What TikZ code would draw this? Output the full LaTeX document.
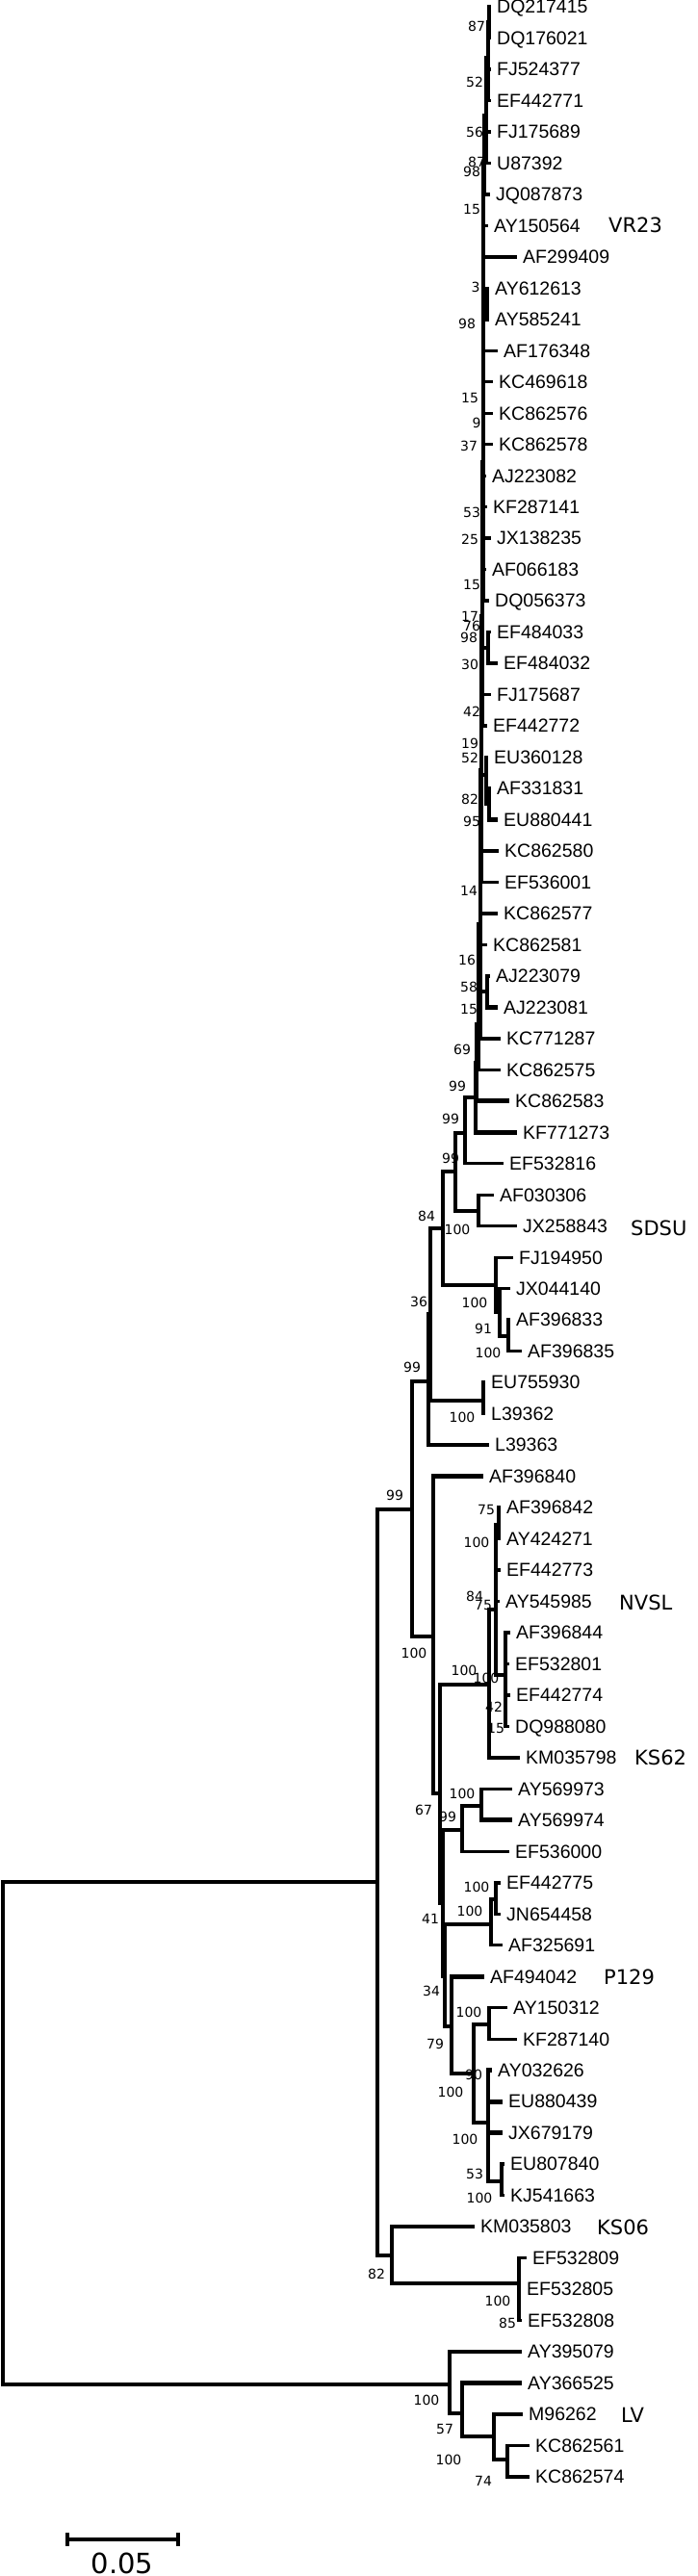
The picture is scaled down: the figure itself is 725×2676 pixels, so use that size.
\documentclass[tikz,border=0pt]{standalone}
\usepackage{fontspec}
\setmainfont{Liberation Sans}
\newfontfamily\dejavu{DejaVu Sans}
\usetikzlibrary{positioning}

\begin{document}
\begin{tikzpicture}[
			x=1pt, y=-1pt,
			branch/.style={line width=3.4pt},
			thk/.style={line width=4.8pt},
			leaf/.style={inner sep=0pt, text depth=0pt, font=\fontsize{19.5}{20}\selectfont},
			boot/.style={inner sep=0pt, font=\dejavu\fontsize{14}{14}\selectfont},
			clade/.style={anchor=west, inner sep=0pt, text depth=0pt, font=\dejavu\fontsize{21}{21}\selectfont}
			]
			\useasboundingbox (0,0) rectangle (725,2676);
			
			% Leaves (tip of branch, then label)
			\foreach [count=\i] \lab/\tx in {DQ217415/510, DQ176021/510, FJ524377/510, EF442771/510,
				FJ175689/510, U87392/510, JQ087873/509, AY150564/507, AF299409/537, AY612613/508,
				AY585241/508, AF176348/517, KC469618/512, KC862576/512, KC862578/512, AJ223082/505,
				KF287141/506, JX138235/510, AF066183/505, DQ056373/508, EF484033/510, EF484032/517,
				FJ175687/510, EF442772/506, EU360128/507, AF331831/510, EU880441/517, KC862580/518,
				EF536001/518, KC862577/517, KC862581/506, AJ223079/509, AJ223081/517, KC771287/520,
				KC862575/520, KC862583/529, KF771273/537, EF532816/523, AF030306/513, JX258843/537,
				FJ194950/533, JX044140/530, AF396833/530, AF396835/542, EU755930/504, L39362/504,
				L39363/508, AF396840/502, AF396842/520, AY424271/520, EF442773/520, AY545985/519,
				AF396844/530, EF532801/529, EF442774/530, DQ988080/529, KM035798/540, AY569973/532,
				AY569974/532, EF536000/529, EF442775/520, JN654458/520, AF325691/522, AF494042/503,
				AY150312/527, KF287140/537, AY032626/511, EU880439/522, JX679179/522, EU807840/524,
				KJ541663/524, KM035803/493, EF532809/547, EF532805/541, EF532808/542, AY395079/542,
				AY366525/542, M96262/543, KC862561/550, KC862574/550} {
				\coordinate (t\i) at (\tx, {7+(\i-1)*32.48});
				\node (l\i) [leaf, right=6pt of t\i] {\lab};
			}
			
			% Internal nodes
			\coordinate (a1) at (508,23);
			\coordinate (a2) at (507,60);
			\coordinate (a3) at (505,120);
			\coordinate (a4) at (503,170);
			\coordinate (a5) at (502,215);
			\coordinate (d1) at (506,316);
			\coordinate (a6) at (502,330);
			\coordinate (a7) at (502,480);
			\coordinate (f1) at (507,673);
			\coordinate (a8) at (501,640);
			\coordinate (g1) at (508,835);
			\coordinate (g2) at (505,805);
			\coordinate (a9) at (500,800);
			\coordinate (h1) at (506,1030);
			\coordinate (a10) at (499,960);
			\coordinate (a11) at (497,1064);
			\coordinate (b1) at (495,1104);
			\coordinate (b2) at (494,1140);
			\coordinate (pp) at (483,1177);
			\coordinate (sd) at (497,1258);
			\coordinate (q) at (473,1217);
			\coordinate (fj3) at (528,1388);
			\coordinate (fj2) at (519,1363);
			\coordinate (fj1) at (515,1335);
			\coordinate (r) at (460,1276);
			\coordinate (eu) at (502,1455);
			\coordinate (s1) at (447,1365);
			\coordinate (s2) at (445,1435);
			\coordinate (nv75) at (518,1584);
			\coordinate (nv3) at (525,1740);
			\coordinate (nv2) at (515,1672);
			\coordinate (z) at (508,1750);
			\coordinate (k1) at (500,1876);
			\coordinate (k2) at (480,1901);
			\coordinate (e1) at (515,1973);
			\coordinate (e2) at (510,1999);
			\coordinate (p1) at (508,2103);
			\coordinate (p2) at (521,2266);
			\coordinate (p3) at (507,2205);
			\coordinate (ae) at (492,2154);
			\coordinate (ad) at (469,2105);
			\coordinate (ac) at (462,2053);
			\coordinate (ab) at (460,1977);
			\coordinate (ny) at (457,1863);
			\coordinate (w) at (450,1700);
			\coordinate (v) at (428,1568);
			\coordinate (ks) at (539,2372);
			\coordinate (ag) at (407,2343);
			\coordinate (xx) at (392,1955);
			\coordinate (lv3) at (527,2555);
			\coordinate (lv2) at (513,2531);
			\coordinate (lv1) at (480,2507);
			\coordinate (lv0) at (467,2477);
			\coordinate (root) at (3,2216);
			
			% Branches
			\foreach \p/\c in {a1/t1, a1/t2, a2/a1, a2/t3, a2/t4, a3/a2, a3/t5, a3/t6, a4/a3, a4/t7,
				a5/a4, a5/t8, a5/t9, d1/t10, d1/t11, a6/a5, a6/d1, a6/t12, a6/t13, a6/t14, a6/t15,
				a7/a6, a7/t16, a7/t17, a7/t18, a7/t19, a7/t20, f1/t21, a8/a7, a8/f1, a8/t23, a8/t24,
				g1/t26, g2/t25, a9/a8, a9/t28, a9/t29, h1/t32,
				a10/a9, a10/t30, a10/t31, a10/h1, a10/t34, a11/a10, a11/t35, b2/b1,
				pp/b2, pp/t38, sd/t39, sd/t40, q/pp, q/sd, fj3/t43, fj3/t44, fj2/t42, fj2/fj3, fj1/t41, fj1/fj2,
				eu/t45, eu/t46,
				nv75/t49, nv75/t50, nv3/t53, nv3/t54, nv3/t55, nv3/t56, nv2/nv75, nv2/t51, nv2/t52, nv2/nv3,
				z/nv2, z/t57, k1/t58, k2/k1, k2/t60, e1/t61, e1/t62, e2/e1, e2/t63,
				p1/t65, p1/t66, p2/t70, p2/t71, ae/p1, ae/p3,
				ac/e2, ac/ad, v/s2, v/w,
				ks/t73, ks/t74, ks/t75, ag/t72,
				lv3/t79, lv3/t80, lv0/t76, lv0/lv1,
				root/xx, root/lv0}
				\draw [branch] (\p) |- (\c);
			\foreach \p/\c in {f1/t22, g1/t27, g2/g1, a9/g2, h1/t33, b1/a11, b1/t36, b2/t37,
				r/q, r/fj1, s1/r, s1/eu, s2/s1, s2/t47, k1/t59, p3/t67, p3/t68, p3/t69, p3/p2,
				ad/t64, ad/ae, ab/k2, ab/ac, ny/z, ny/ab, w/t48, w/ny, xx/v, xx/ag, ag/ks,
				lv2/t78, lv2/lv3, lv1/t77, lv1/lv2}
				\draw [thk] (\p) |- (\c);
			
			% Bootstrap values
			\foreach [count=\k] \bx/\by/\bv in {495/27/87, 493/85/52, 493/137/56, 495/168/87, 490/178/98,
				490/217/15, 494/298/3, 485/336/98, 488/413/15, 495/439/9, 487/463/37, 490/532/53,
				488/560/25, 490/607/15, 488/640/17, 490/650/76, 487/662/98, 488/690/30, 490/739/42,
				488/772/19, 488/787/52, 488/830/82, 490/853/95, 487/925/14, 485/997/16, 487/1025/58,
				487/1048/15, 480/1090/69, 475/1128/99, 468/1162/99, 468/1203/99, 443/1263/84,
				475/1277/100, 435/1352/36, 493/1353/100, 502/1380/91, 507/1405/100, 428/1420/99,
				480/1472/100, 410/1553/99, 505/1568/75, 495/1602/100, 493/1658/84, 502/1667/75,
				430/1717/100, 482/1735/100, 505/1743/100, 513/1773/42, 515/1795/15, 480/1863/100,
				440/1880/67, 465/1887/99, 495/1960/100, 488/1985/100, 447/1993/41, 448/2068/34,
				487/2090/100, 452/2123/79, 492/2155/90, 468/2173/100, 483/2222/100, 493/2258/53,
				498/2283/100, 391/2362/82, 517/2390/100, 527/2413/85, 443/2493/100, 462/2523/57,
				466/2555/100, 502/2577/74}
				\node (bs\k) [boot] at (\bx,\by) {\bv};
			
			% Clade names
			\node (vr23) [clade] at (632,234) {VR23};
			\node (sdsu) [clade] at (655,1276) {SDSU};
			\node (nvsl) [clade] at (643,1665) {NVSL};
			\node (ks62) [clade] at (659,1826) {KS62};
			\node (p129) [clade] at (627,2054) {P129};
			\node (ks06) [clade] at (620,2314) {KS06};
			\node (lv) [clade] at (645,2509) {LV};
			
			% Scale bar
			\coordinate (sbl) at (70,2638);
			\coordinate (sbr) at (185,2638);
			\draw [branch] (sbl) -- (sbr);
			\draw [branch] ([yshift=7pt]sbl) -- ([yshift=-7pt]sbl);
			\draw [branch] ([yshift=7pt]sbr) -- ([yshift=-7pt]sbr);
			\node (sclab) [anchor=base, inner sep=0pt, font=\dejavu\fontsize{29}{29}\selectfont] at (127,2673) {0.05};
		\end{tikzpicture}
\end{document}
